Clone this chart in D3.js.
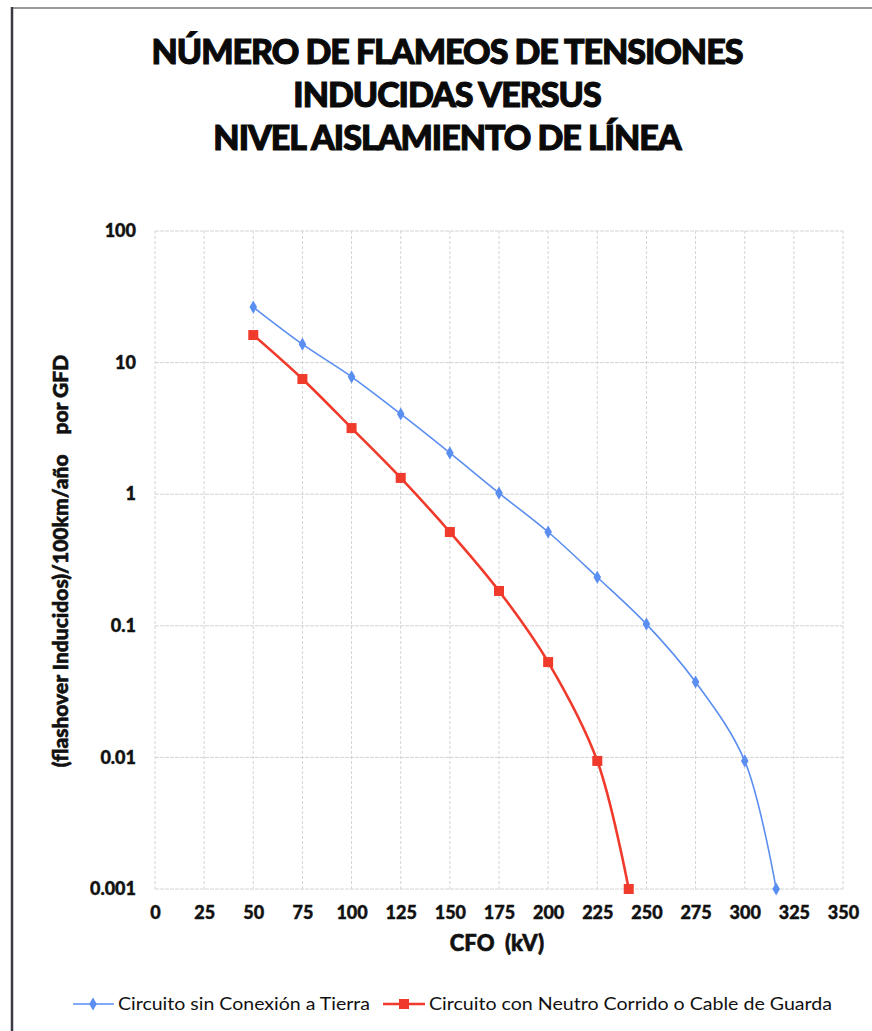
<!DOCTYPE html>
<html>
<head>
<meta charset="utf-8">
<script src="https://cdn.jsdelivr.net/npm/d3@7"></script>
<style>
  body { margin: 0; background: #fff; }
  svg { display: block; font-family: Lato, "Open Sans", sans-serif; }
</style>
</head>
<body>
<div id="chart"></div>
<script>
// valeurs (CFO en kV, flameos / 100km / año)
var cfoSin = [50, 75, 100, 125, 150, 175, 200, 225, 250, 275, 300, 316];
var valSin = [26.4, 13.8, 7.8, 4.07, 2.06, 1.02, 0.516, 0.234, 0.103, 0.0374, 0.0094, 0.001];
var cfoCon = [50, 75, 100, 125, 150, 175, 200, 225, 241];
var valCon = [16.2, 7.5, 3.18, 1.33, 0.516, 0.184, 0.053, 0.0094, 0.001];

var xTicks = [0, 25, 50, 75, 100, 125, 150, 175, 200, 225, 250, 275, 300, 325, 350];
var yTicks = [0.001, 0.01, 0.1, 1, 10, 100];
var yLabels = ["0.001", "0.01", "0.1", "1", "10", "100"];

var titleLines = ["NÚMERO DE FLAMEOS DE TENSIONES", "INDUCIDAS VERSUS", "NIVEL AISLAMIENTO DE LÍNEA"];
var seriesNames = ["Circuito sin Conexión a Tierra", "Circuito con Neutro Corrido o Cable de Guarda"];

var width = 872, height = 1031;
var svg = d3.select("#chart").append("svg")
  .attr("width", width).attr("height", height);

// cadre
svg.append("line").attr("x1", 11).attr("x2", width).attr("y1", 8).attr("y2", 8)
  .attr("stroke", "#9a9a9a").attr("stroke-width", 2);
svg.append("line").attr("x1", 12).attr("x2", 12).attr("y1", 7).attr("y2", height)
  .attr("stroke", "#3a3a44").attr("stroke-width", 2.5);

// titre
svg.append("g").selectAll("text")
  .data(titleLines)
  .join("text")
    .attr("x", 447)
    .attr("y", (d, i) => 64 + i * 43)
    .attr("text-anchor", "middle")
    .attr("font-size", 34)
    .attr("font-weight", 900)
    .attr("letter-spacing", -1)
    .attr("fill", "#0a0a0a")
    .attr("stroke", "#0a0a0a")
    .attr("stroke-width", 1.1)
    .text(d => d);

var x = d3.scaleLinear().domain([0, 350]).range([155, 843]);
var y = d3.scaleLog().domain([0.001, 100]).range([889, 231]);

// grille
var grid = svg.append("g").attr("stroke", "#d4d4d4").attr("stroke-width", 1);
grid.selectAll("line.v")
  .data(xTicks)
  .join("line")
    .attr("class", "v")
    .attr("x1", d => x(d)).attr("x2", d => x(d))
    .attr("y1", y(100)).attr("y2", y(0.001))
    .attr("stroke-dasharray", "3,2");
grid.selectAll("line.h")
  .data(yTicks)
  .join("line")
    .attr("class", "h")
    .attr("x1", x(0)).attr("x2", x(350))
    .attr("y1", d => y(d)).attr("y2", d => y(d))
    .attr("stroke-dasharray", "4,1");

// axes (seulement les étiquettes)
var xAxis = svg.append("g")
  .attr("transform", `translate(0,${y(0.001)})`)
  .call(d3.axisBottom(x).tickValues(xTicks).tickSize(0).tickPadding(17));
var yAxis = svg.append("g")
  .attr("transform", `translate(${x(0) - 19},0)`)
  .call(d3.axisLeft(y).tickValues(yTicks).tickFormat((d, i) => yLabels[i]).tickSize(0).tickPadding(0));
[xAxis, yAxis].forEach(a => {
  a.select(".domain").remove();
  a.selectAll("text")
    .attr("font-family", "Lato, sans-serif")
    .attr("font-size", 18)
    .attr("font-weight", 900)
    .attr("fill", "#111")
    .attr("stroke", "#111")
    .attr("stroke-width", 0.4);
});

// titres des axes
svg.append("text")
  .attr("x", 497).attr("y", 951)
  .attr("text-anchor", "middle")
  .attr("font-size", 22).attr("font-weight", 900)
  .attr("fill", "#111").attr("stroke", "#111").attr("stroke-width", 0.6)
  .attr("xml:space", "preserve")
  .text("CFO  (kV)");
svg.append("text")
  .attr("transform", "translate(68,561) rotate(-90)")
  .attr("text-anchor", "middle")
  .attr("font-size", 21).attr("font-weight", 900)
  .attr("fill", "#111").attr("stroke", "#111").attr("stroke-width", 0.6)
  .attr("xml:space", "preserve")
  .text("(flashover Inducidos)/100km/año    por GFD");

// courbes lissées
var line = d3.line()
  .x(d => x(d[0]))
  .y(d => y(d[1]))
  .curve(d3.curveCatmullRom.alpha(0.5));

var dataSin = cfoSin.map((c, i) => [c, valSin[i]]);
var dataCon = cfoCon.map((c, i) => [c, valCon[i]]);

var blue = "#5a8ef0", red = "#f03a2c";

svg.append("path").datum(dataSin)
  .attr("d", line).attr("fill", "none")
  .attr("stroke", blue).attr("stroke-width", 1.6);
svg.append("path").datum(dataCon)
  .attr("d", line).attr("fill", "none")
  .attr("stroke", red).attr("stroke-width", 2.6);

var diamond = d3.symbol().type(d3.symbolDiamond).size(50);
svg.append("g").selectAll("path")
  .data(dataSin)
  .join("path")
    .attr("transform", d => `translate(${x(d[0])},${y(d[1])})`)
    .attr("d", diamond)
    .attr("fill", blue);
svg.append("g").selectAll("rect")
  .data(dataCon)
  .join("rect")
    .attr("x", d => x(d[0]) - 5).attr("y", d => y(d[1]) - 5)
    .attr("width", 10).attr("height", 10)
    .attr("fill", red);

// légende
var leg = svg.append("g").attr("font-size", 18).attr("fill", "#111");
leg.append("line").attr("x1", 73).attr("x2", 114).attr("y1", 1004).attr("y2", 1004)
  .attr("stroke", blue).attr("stroke-width", 1.6);
leg.append("path").attr("transform", "translate(93,1004)").attr("d", diamond).attr("fill", blue);
leg.append("text").attr("x", 118).attr("y", 1010)
  .attr("textLength", 252).attr("lengthAdjust", "spacingAndGlyphs")
  .text(seriesNames[0]);
leg.append("line").attr("x1", 383).attr("x2", 425).attr("y1", 1004).attr("y2", 1004)
  .attr("stroke", red).attr("stroke-width", 2.6);
leg.append("rect").attr("x", 399).attr("y", 999).attr("width", 10).attr("height", 10).attr("fill", red);
leg.append("text").attr("x", 429).attr("y", 1010)
  .attr("textLength", 403).attr("lengthAdjust", "spacingAndGlyphs")
  .text(seriesNames[1]);
</script>
</body>
</html>
